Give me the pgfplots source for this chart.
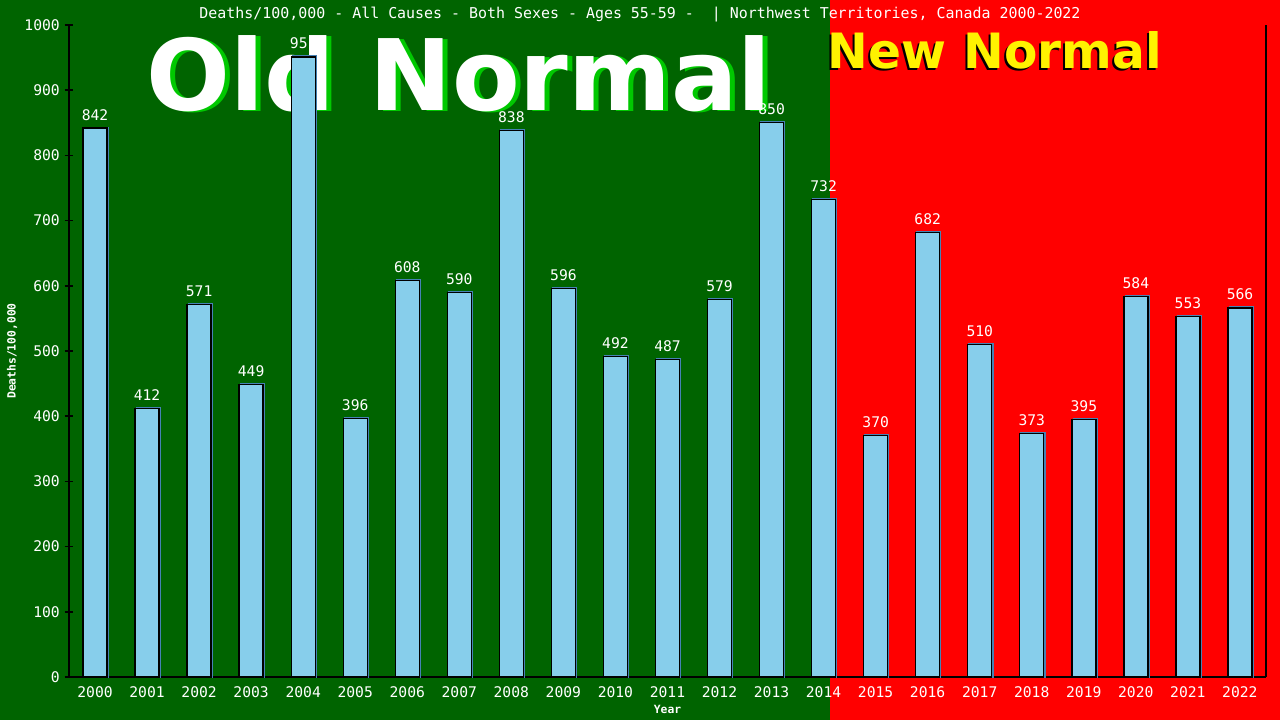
\documentclass[border=0pt]{standalone}
\usepackage{fontspec}
\usepackage{pgfplots}
\pgfplotsset{compat=1.18}
\usepackage{pgfplotstable}
\newfontfamily\monof{DejaVu Sans Mono}
\newfontfamily\bigf{DejaVu Sans}
\definecolor{oldgreen}{RGB}{0,100,0}
\definecolor{shadegreen}{RGB}{0,200,0}
\definecolor{barblue}{RGB}{135,206,235}
\definecolor{edgeblue}{RGB}{70,130,180}

% deaths per 100,000, ages 55-59, Northwest Territories
\pgfplotstableread{
year val
2000 842
2001 412
2002 571
2003 449
2004 951
2005 396
2006 608
2007 590
2008 838
2009 596
2010 492
2011 487
2012 579
2013 850
2014 732
2015 370
2016 682
2017 510
2018 373
2019 395
2020 584
2021 553
2022 566
}\deaths

\begin{document}
\begin{tikzpicture}
\useasboundingbox (0,0) rectangle (960pt,-540pt);
\fill[oldgreen] (0,0) rectangle (622.5pt,-540pt);
\fill[red] (622.5pt,0) rectangle (960pt,-540pt);
\node[anchor=base, inner sep=0pt, text=white, font=\monof\fontsize{11.2}{13}\selectfont]
  at (480pt,-14.25pt) {Deaths/100,000 - All Causes - Both Sexes - Ages 55-59 -\ \ | Northwest Territories, Canada 2000-2022};
\begin{axis}[
  at={(51.75pt,-507.75pt)}, anchor=south west,
  scale only axis, width=897.75pt, height=489pt,
  xmin=1999.5, xmax=2022.5, ymin=0, ymax=1000,
  axis x line*=bottom, axis y line*=left,
  axis line style={black, line width=1.2pt, -},
  xtick={2000,...,2022}, ytick={0,100,...,1000},
  xtick style={draw=none},
  ytick style={black, line width=1.2pt},
  major tick length=6.75pt, tick align=center,
  tick label style={text=white, font=\monof\fontsize{11}{13}\selectfont},
  /pgf/number format/assume math mode=true,
  /pgf/number format/1000 sep={},
  xlabel={Year}, ylabel={Deaths/100,000},
  label style={text=white, font=\monof\bfseries\fontsize{8.5}{10}\selectfont},
  xlabel style={at={(axis description cs:0.5,-0.0491)}, anchor=center},
  ylabel style={at={(axis description cs:-0.0476,0.5)}, anchor=center},
  clip=false,
]
% value labels first, so the big text covers them
\addplot[draw=none, mark=none, nodes near coords,
  nodes near coords style={anchor=base, inner sep=0pt, yshift=6pt, text=white,
    font=\monof\fontsize{11}{13}\selectfont}]
  table[x=year, y=val] {\deaths};
\node[anchor=base west, inner sep=0pt, text=shadegreen, font=\bigf\bfseries\fontsize{74}{80}\selectfont]
  at (axis cs:2001.086,866.6) {Old Normal};
\node[anchor=base west, inner sep=0pt, text=white, font=\bigf\bfseries\fontsize{74}{80}\selectfont]
  at (axis cs:2000.99,868.1) {Old Normal};
\node[anchor=base west, inner sep=0pt, text=black, font=\bigf\bfseries\fontsize{36.5}{40}\selectfont]
  at (axis cs:2014.037,930) {New Normal};
\node[anchor=base west, inner sep=0pt, text=yellow, font=\bigf\bfseries\fontsize{36.5}{40}\selectfont]
  at (axis cs:2014.075,933) {New Normal};
\addplot[ybar, bar width=18pt, bar shift=0.9pt, draw=edgeblue, fill=edgeblue, line width=0.8pt]
  table[x=year, y expr=\thisrow{val}+1.5] {\deaths};
\addplot[ybar, bar width=18pt, bar shift=0pt, draw=black, fill=barblue, line width=1pt]
  table[x=year, y=val] {\deaths};
\draw[black, line width=1.2pt] (rel axis cs:1,0) -- (rel axis cs:1,1);
\end{axis}
\end{tikzpicture}
\end{document}
